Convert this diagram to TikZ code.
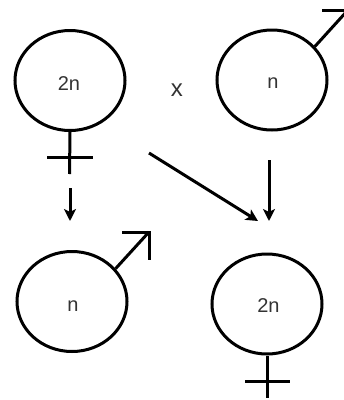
\documentclass[tikz,border=0pt]{standalone}
\usepackage{fontspec}
\setmainfont{Liberation Sans}
\usetikzlibrary{shapes.geometric,arrows.meta}
\newcommand{\placed}[3]{\raisebox{#2}[0pt][0pt]{\makebox[0pt]{\hspace*{#1}#3}}}
\tikzset{
  gamete/.style={draw=black,line width=3pt,ellipse,inner sep=0pt,minimum width=110pt,minimum height=100pt,text=black!80,font=\fontsize{20}{20}\selectfont},
  sign/.style={draw=black,line width=3pt},
  flow/.style={draw=black,line width=3pt,-{Stealth[length=12pt,width=12pt,inset=3pt]}},
  mark label/.style={text=black!80,font=\fontsize{24}{24}\selectfont,inner sep=0pt}
}
\begin{document}
\begin{tikzpicture}[x=1pt,y=-1pt]
\useasboundingbox (0,0) rectangle (344,400);
\fill[white] (0,0) rectangle (344,400);
\begin{scope}
\clip (0,0) rectangle (344,400);
\node[gamete] (tl) at (70,80.5) {\placed{-2pt}{-10pt}{2n}};
\node[gamete] (tr) at (272,80) {\placed{2pt}{-8pt}{n}};
\node[gamete] (bl) at (72,301.5) {\placed{2pt}{-10pt}{n}};
\node[gamete] (br) at (267,304) {\placed{3pt}{-8pt}{2n}};
\node[mark label] (cross) at (177,90) {x};
% female sign, top left
\coordinate (tlend) at (69.5,174);
\coordinate (tlbarl) at (47,157);
\coordinate (tlbarr) at (93,157);
\draw[sign] (tl.south) -- (tlend);
\draw[sign] (tlbarl) -- (tlbarr);
% male sign, top right
\coordinate (trtip) at (348,10);
\coordinate (trbar) at (322,10);
\coordinate (trbare) at (350,10);
\draw[sign] (tr.38) -- (trtip);
\draw[sign] (trbar) -- (trbare);
% male sign, bottom left
\coordinate (bltip) at (149,232);
\coordinate (blbar) at (122,232);
\coordinate (blbard) at (149,260);
\draw[sign] (bl.37) -- (bltip);
\draw[sign,line join=miter] (blbar) -- (bltip) -- (blbard);
% female sign, bottom right
\coordinate (brend) at (267,398);
\coordinate (brbarl) at (245,381);
\coordinate (brbarr) at (290,381);
\draw[sign] (br.south) -- (brend);
\draw[sign] (brbarl) -- (brbarr);
% arrows
\coordinate (a1s) at (70,188);
\coordinate (a1e) at (70,221);
\coordinate (a2s) at (149,153);
\coordinate (a2e) at (258,221);
\coordinate (a3s) at (269,160);
\coordinate (a3e) at (269,221);
\draw[flow] (a1s) -- (a1e);
\draw[flow] (a2s) -- (a2e);
\draw[flow] (a3s) -- (a3e);
\end{scope}
\end{tikzpicture}
\end{document}
